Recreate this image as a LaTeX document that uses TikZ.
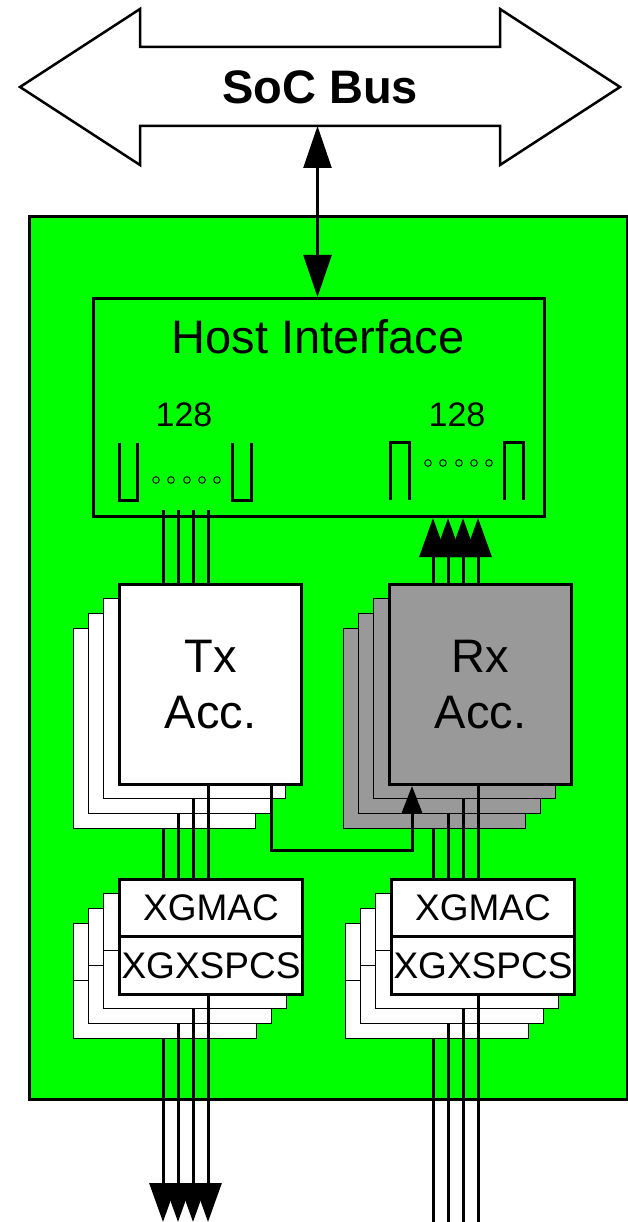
\documentclass[tikz,border=0pt]{standalone}
\usepackage{fontspec}
\setmainfont{Liberation Sans}
\usetikzlibrary{arrows.meta,calc}
\definecolor{chipgreen}{HTML}{00FF00}
\definecolor{rxgray}{HTML}{999999}
\begin{document}
\begin{tikzpicture}[x=1pt,y=-1pt,
  box/.style={draw, line width=3pt, inner sep=0pt, anchor=north west},
  ghost/.style={draw, line width=1pt, inner sep=0pt, anchor=north west},
  wire/.style={line width=3pt},
  port/.style={line width=3pt},
  dot/.style={line width=0.9pt},
  bigfont/.style={font=\fontsize{47}{56}\selectfont},
  midfont/.style={font=\fontsize{37}{44}\selectfont},
  smallfont/.style={font=\fontsize{34}{40}\selectfont},
  hugetip/.style={{Triangle[length=42pt,width=28pt]}-{Triangle[length=42pt,width=28pt]}},
  downtip/.style={-{Triangle[length=39pt,width=27pt]}},
  uptip/.style={-{Triangle[length=39pt,width=27pt]}},
  smalltip/.style={-{Triangle[length=27pt,width=20pt]}}
]
\useasboundingbox (0,0) rectangle (628,1222);
% SoC bus
\draw[line width=2.5pt, fill=white] (20,87) -- (140,9) -- (140,47) -- (500,47) -- (500,9) -- (620,87) -- (500,165) -- (500,126) -- (140,126) -- (140,165) -- cycle;
\node[font=\fontsize{47}{56}\selectfont\bfseries] (bus) at (320,87) {SoC Bus};
\coordinate (busbot) at (317.5,126);
% chip
\node[box, fill=chipgreen, minimum width=598pt, minimum height=883pt] (chip) at (28,215) {};
\coordinate (bottom) at (314,1222);
% host interface
\node[box, minimum width=451pt, minimum height=218pt] (host) at (92,297) {};
\node[bigfont] (hostlbl) at (318,337) {Host Interface};
\node[smallfont] (n128a) at (184,415) {128};
\node[smallfont] (n128b) at (457,415) {128};
\draw[port] (119,443) -- (119,500) -- (137,500) -- (137,443);
\draw[port] (232,443) -- (232,500) -- (251,500) -- (251,443);
\draw[port] (390,500) -- (390,442) -- (409,442) -- (409,500);
\draw[port] (504,500) -- (504,442) -- (523,442) -- (523,500);
\foreach \x in {156,171,187,202,217} \draw[dot] (\x,480) circle (3.3pt);
\foreach \x in {428,443,459,474,489} \draw[dot] (\x,463) circle (3.3pt);
\draw[line width=2.5pt, hugetip] (busbot) -- (busbot |- host.north);
% Tx / Rx accelerators
\foreach \k in {3,2,1} {
  \node[ghost, fill=white, minimum width=182pt, minimum height=200pt] (tx\k) at ({118-15*\k},{583+15*\k}) {};
  \node[ghost, fill=rxgray, minimum width=182pt, minimum height=200pt] (rx\k) at ({388-15*\k},{583+15*\k}) {};
}
\node[box, fill=white, minimum width=182pt, minimum height=200pt, bigfont, align=center] (tx) at (118,583) {Tx\\Acc.};
\node[box, fill=rxgray, minimum width=182pt, minimum height=200pt, bigfont, align=center] (rx) at (388,583) {Rx\\Acc.};
% XGMAC / XGXSPCS
\foreach \k in {3,2,1} {
  \node[ghost, fill=white, minimum width=183pt, minimum height=57pt] (txmac\k) at ({118-15*\k},{878+15*\k}) {};
  \node[ghost, fill=white, minimum width=183pt, minimum height=58pt] (txpcs\k) at ({118-15*\k},{935+15*\k}) {};
  \node[ghost, fill=white, minimum width=183pt, minimum height=57pt] (rxmac\k) at ({390-15*\k},{878+15*\k}) {};
  \node[ghost, fill=white, minimum width=183pt, minimum height=58pt] (rxpcs\k) at ({390-15*\k},{935+15*\k}) {};
}
\node[box, fill=white, minimum width=183pt, minimum height=57pt, midfont] (txmac) at (118,878) {XGMAC};
\node[box, fill=white, minimum width=183pt, minimum height=58pt, midfont] (txpcs) at (118,935) {XGXSPCS};
\node[box, fill=white, minimum width=183pt, minimum height=57pt, midfont] (rxmac) at (390,878) {XGMAC};
\node[box, fill=white, minimum width=183pt, minimum height=58pt, midfont] (rxpcs) at (390,935) {XGXSPCS};
% host <-> accelerators
\foreach \d in {45,60,75,90} {
  \draw[wire] ([xshift=\d pt]tx.north west) -- ($([xshift=\d pt]tx.north west |- host.south)+(0,-8)$);
  \draw[wire, uptip] ([xshift=\d pt]rx.north west) -- ([xshift=\d pt]rx.north west |- host.south);
}
% accelerators -> MAC
\draw[wire] ([xshift=90pt]tx.south west) -- ([xshift=90pt]tx.south west |- txmac.north);
\draw[wire] ([xshift=90pt]rx.south west) -- ([xshift=90pt]rx.south west |- rxmac.north);
\foreach \k in {1,2,3} {
  \draw[wire] ([xshift=90pt]tx\k.south west) -- ([xshift=90pt]tx\k.south west |- txmac.north);
  \draw[wire] ([xshift=90pt]rx\k.south west) -- ([xshift=90pt]rx\k.south west |- rxmac.north);
}
% Tx -> Rx
\draw[wire, smalltip] ([xshift=153pt]tx.south west) -- ++(0,64) -| ([xshift=24pt]rx.south west);
% PCS -> outside
\draw[wire, downtip] ([xshift=90pt]txpcs.south west) -- ([xshift=90pt]txpcs.south west |- bottom);
\draw[wire] ([xshift=88pt]rxpcs.south west) -- ([xshift=88pt]rxpcs.south west |- bottom);
\foreach \k in {1,2,3} {
  \draw[wire, downtip] ([xshift=90pt]txpcs\k.south west) -- ([xshift=90pt]txpcs\k.south west |- bottom);
  \draw[wire] ([xshift=88pt]rxpcs\k.south west) -- ([xshift=88pt]rxpcs\k.south west |- bottom);
}
\end{tikzpicture}
\end{document}
